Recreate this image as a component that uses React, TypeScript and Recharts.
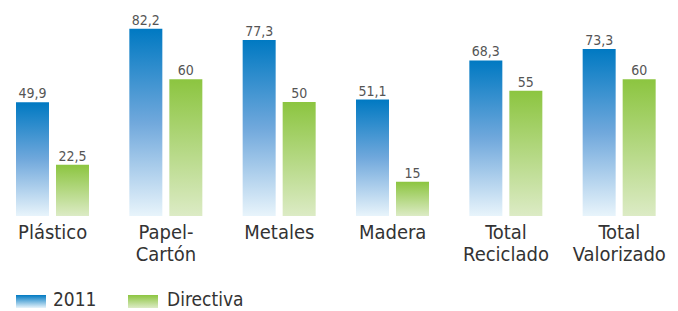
import React from 'react'
import { BarChart, Bar, XAxis, YAxis, LabelList } from 'recharts'

const categories = ['Plástico', 'Papel-\nCartón', 'Metales', 'Madera', 'Total\nReciclado', 'Total\nValorizado']
const values2011 = [49.9, 82.2, 77.3, 51.1, 68.3, 73.3]
const valuesDirectiva = [22.5, 60, 50, 15, 55, 60]
const seriesNames = ['2011', 'Directiva']

const FONT = "'DejaVu Sans Condensed', 'Liberation Sans Narrow', sans-serif"

const data = categories.map((c, i) => ({
  name: c,
  y2011: values2011[i],
  directiva: valuesDirectiva[i],
}))

const fmt = (v: any) => String(v).replace('.', ',')

const CategoryTick = ({ x, y, payload }: any) => {
  const lines = String(payload.value).split('\n')
  return (
    <text x={x} y={y} textAnchor="middle" fill="#333" fontSize={20} fontFamily={FONT}>
      {lines.map((l, i) => (
        <tspan key={i} x={x} dy={i === 0 ? 23 : 22}>{l}</tspan>
      ))}
    </text>
  )
}

// legend drawn as plain html under the chart so it doesn't shrink the plot
const swatch = (left: number, bg: string): React.CSSProperties => ({
  position: 'absolute', left, top: 295, width: 30, height: 13, background: bg,
})
const legendText = (left: number): React.CSSProperties => ({
  position: 'absolute', left, top: 291, lineHeight: '16px', fontFamily: FONT, fontSize: 19, color: '#333', whiteSpace: 'nowrap',
})

const ChartLegend = () => (
  <>
    <span style={swatch(20, 'linear-gradient(#0079c2, #e8f4fb)')} />
    <span style={legendText(57)}>{seriesNames[0]}</span>
    <span style={swatch(132, 'linear-gradient(#8cc540, #dcebc5)')} />
    <span style={legendText(171)}>{seriesNames[1]}</span>
  </>
)

export default function App() {
  return (
    <div style={{ position: 'absolute', left: -4, top: 0, width: 682, height: 311 }}>
      <BarChart
        width={682}
        height={311}
        data={data}
        margin={{ top: 11, right: 2, left: 0, bottom: 0 }}
        barSize={33}
        barGap={7}
      >
        <defs>
          <linearGradient id="grad2011" x1="0" y1="0" x2="0" y2="1">
            <stop offset="0%" stopColor="#0079c2" />
            <stop offset="50%" stopColor="#70a8dc" />
            <stop offset="100%" stopColor="#e8f4fb" />
          </linearGradient>
          <linearGradient id="gradDir" x1="0" y1="0" x2="0" y2="1">
            <stop offset="0%" stopColor="#8cc540" />
            <stop offset="100%" stopColor="#dcebc5" />
          </linearGradient>
        </defs>
        <XAxis
          dataKey="name"
          axisLine={false}
          tickLine={false}
          tickSize={0}
          tickMargin={0}
          interval={0}
          height={95}
          tick={<CategoryTick />}
        />
        <YAxis hide domain={[0, 90]} />
        <Bar dataKey="y2011" name={seriesNames[0]} fill="url(#grad2011)" isAnimationActive={false}>
          <LabelList dataKey="y2011" position="top" offset={4} formatter={fmt} fill="#555" fontSize={14} fontFamily={FONT} />
        </Bar>
        <Bar dataKey="directiva" name={seriesNames[1]} fill="url(#gradDir)" isAnimationActive={false}>
          <LabelList dataKey="directiva" position="top" offset={4} formatter={fmt} fill="#555" fontSize={14} fontFamily={FONT} />
        </Bar>
      </BarChart>
      <ChartLegend />
    </div>
  )
}
